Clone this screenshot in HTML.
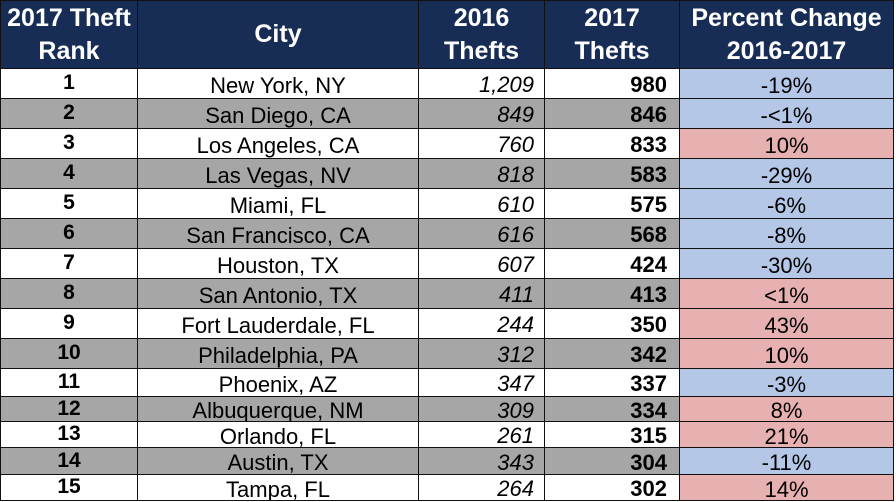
<!DOCTYPE html>
<html><head><style>
body{margin:0;width:896px;height:502px;background:#fff;overflow:hidden;font-family:"Liberation Sans",Arial,sans-serif;}
table{position:absolute;left:0;top:0;border-collapse:collapse;table-layout:fixed;}
td,th{border:1.5px solid #111;padding:0;font-size:22px;color:#000;white-space:nowrap;overflow:hidden;line-height:20px;}
th{background:#172d55;color:#fff;font-size:25px;font-weight:bold;line-height:33px;height:67px;text-align:center;}
td.r{text-align:center;font-weight:bold;padding-bottom:1px;font-size:21px;}
td.c{text-align:center;padding-top:4px;}
td.a{text-align:right;font-style:italic;padding-right:10px;padding-top:3px;}
td.b{text-align:right;font-weight:bold;padding-right:12px;padding-top:3px;}
td.p{text-align:center;padding-top:4px;}
tr.g td{background:#a6a6a6;}
tr td.p.bl{background:#b4c7e7;}
tr td.p.rd{background:#e6b1b0;}
</style></head><body>
<table>
<colgroup><col style="width:137px"><col style="width:281px"><col style="width:126px"><col style="width:135px"><col style="width:214px"></colgroup>
<tr><th>2017 Theft<br>Rank</th><th>City</th><th>2016<br>Thefts</th><th>2017<br>Thefts</th><th>Percent Change<br>2016-2017</th></tr>
<tr style="height:30px"><td class="r">1</td><td class="c">New York, NY</td><td class="a">1,209</td><td class="b">980</td><td class="p bl">-19%</td></tr>
<tr class="g" style="height:30px"><td class="r">2</td><td class="c">San Diego, CA</td><td class="a">849</td><td class="b">846</td><td class="p bl">-&lt;1%</td></tr>
<tr style="height:30px"><td class="r">3</td><td class="c">Los Angeles, CA</td><td class="a">760</td><td class="b">833</td><td class="p rd">10%</td></tr>
<tr class="g" style="height:30px"><td class="r">4</td><td class="c">Las Vegas, NV</td><td class="a">818</td><td class="b">583</td><td class="p bl">-29%</td></tr>
<tr style="height:30px"><td class="r">5</td><td class="c">Miami, FL</td><td class="a">610</td><td class="b">575</td><td class="p bl">-6%</td></tr>
<tr class="g" style="height:30px"><td class="r">6</td><td class="c">San Francisco, CA</td><td class="a">616</td><td class="b">568</td><td class="p bl">-8%</td></tr>
<tr style="height:30px"><td class="r">7</td><td class="c">Houston, TX</td><td class="a">607</td><td class="b">424</td><td class="p bl">-30%</td></tr>
<tr class="g" style="height:30px"><td class="r">8</td><td class="c">San Antonio, TX</td><td class="a">411</td><td class="b">413</td><td class="p rd">&lt;1%</td></tr>
<tr style="height:30px"><td class="r">9</td><td class="c">Fort Lauderdale, FL</td><td class="a">244</td><td class="b">350</td><td class="p rd">43%</td></tr>
<tr class="g" style="height:30px"><td class="r">10</td><td class="c">Philadelphia, PA</td><td class="a">312</td><td class="b">342</td><td class="p rd">10%</td></tr>
<tr style="height:28px"><td class="r">11</td><td class="c">Phoenix, AZ</td><td class="a">347</td><td class="b">337</td><td class="p bl">-3%</td></tr>
<tr class="g" style="height:25px"><td class="r">12</td><td class="c">Albuquerque, NM</td><td class="a">309</td><td class="b">334</td><td class="p rd">8%</td></tr>
<tr style="height:26px"><td class="r">13</td><td class="c">Orlando, FL</td><td class="a">261</td><td class="b">315</td><td class="p rd">21%</td></tr>
<tr class="g" style="height:27px"><td class="r">14</td><td class="c">Austin, TX</td><td class="a">343</td><td class="b">304</td><td class="p bl">-11%</td></tr>
<tr style="height:26px"><td class="r">15</td><td class="c">Tampa, FL</td><td class="a">264</td><td class="b">302</td><td class="p rd">14%</td></tr>
</table>
</body></html>
